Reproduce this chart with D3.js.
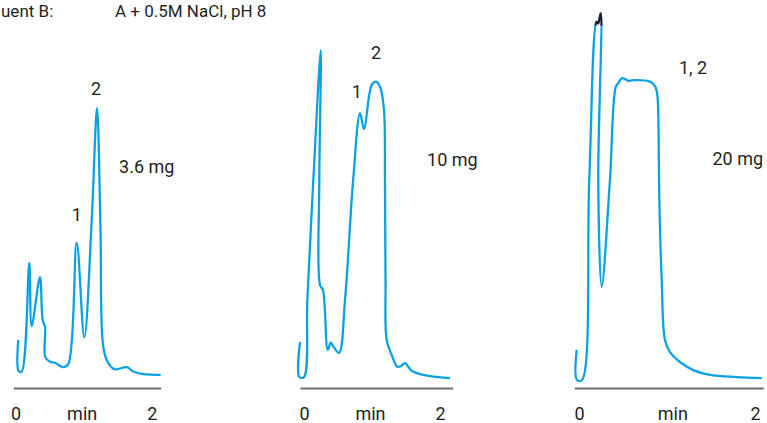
<!DOCTYPE html>
<html>
<head>
<meta charset="utf-8">
<script src="https://cdn.jsdelivr.net/npm/d3@7"></script>
<style>
  body { margin: 0; background: #fff; }
  svg text { font-family: Roboto, "Liberation Sans", sans-serif; fill: #231f20; }
</style>
</head>
<body>
<svg id="chart"></svg>
<script>
// eluent note (left part is cropped in the original figure)
var eluentLabel = "uent B:";
var eluentText = "A + 0.5M NaCl, pH 8";

// load per run
var loads = ["3.6 mg", "10 mg", "20 mg"];

// traces: time (min) and detector signal (relative units)
var time1 = [0.038, 0.043, 0.088, 0.200, 0.235, 0.357, 0.397, 0.431, 0.435, 0.504, 0.578, 0.700, 0.774, 0.897, 1.009, 1.118, 1.196, 1.247, 1.288, 1.362, 1.460, 1.632, 1.729, 1.876, 2.132];
var signal1 = [10.9, 2.5, 2.3, 31.9, 14.7, 28.0, 16.3, 14.5, 6.3, 5.0, 4.7, 3.5, 4.4, 37.4, 11.6, 43.6, 74.1, 40.9, 9.0, 4.6, 2.9, 3.5, 2.3, 1.6, 1.4];

var time2 = [-0.059, -0.069, 0.000, 0.049, 0.137, 0.246, 0.225, 0.235, 0.279, 0.349, 0.393, 0.426, 0.515, 0.603, 0.725, 0.824, 0.882, 0.996, 1.059, 1.118, 1.176, 1.191, 1.199, 1.216, 1.290, 1.372, 1.426, 1.485, 1.584, 1.750, 2.147];
var signal2 = [10.4, 0.8, 0.8, 21.8, 54.5, 89.9, 54.5, 25.9, 24.5, 8.2, 10.2, 9.3, 7.4, 21.8, 55.0, 72.7, 68.4, 80.4, 81.3, 79.9, 73.6, 54.5, 27.2, 10.9, 6.8, 3.6, 3.8, 4.6, 2.5, 1.4, 0.5];

var time3 = [-0.026, -0.023, 0.034, 0.117, 0.201, 0.219, 0.247, 0.219, 0.258, 0.352, 0.417, 0.447, 0.485, 0.523, 0.560, 0.617, 0.807, 0.864, 0.890, 0.901, 0.913, 0.940, 0.977, 1.034, 1.148, 1.299, 1.489, 1.792, 2.076];
var signal3 = [8.2, 0.0, 0.0, 54.5, 97.6, 97.2, 99.9, 54.5, 25.4, 54.5, 79.8, 80.9, 82.2, 82.0, 81.5, 81.7, 81.3, 80.1, 77.7, 72.2, 49.0, 27.2, 10.9, 7.6, 4.9, 2.7, 1.4, 0.8, 0.5];

// peak labels per run
var peakText1 = ["1", "2"];
var peakText2 = ["1", "2"];
var peakText3 = ["1, 2"];

var xTicks = [0, 2];
var xUnit = "min";

var width = 767, height = 423;
var svg = d3.select("#chart").attr("width", width).attr("height", height);

var y = d3.scaleLinear().domain([0, 100]).range([380, 13]);

// layout of each run
var panels = [
  { t: time1, s: signal1, domain: [-0.035, 2.132], range: [13.3, 160.7], unitAt: 0.97,
    labels: [{ text: peakText1[0], t: 0.90, s: 43.3, anchor: "middle" },
             { text: peakText1[1], t: 1.18, s: 77.7, anchor: "middle" },
             { text: loads[0], t: 1.52, s: 56.4, anchor: "start" }] },
  { t: time2, s: signal2, domain: [-0.059, 2.187], range: [300, 452.7], unitAt: 0.97,
    labels: [{ text: peakText2[0], t: 0.775, s: 76.8, anchor: "middle" },
             { text: peakText2[1], t: 1.06, s: 87.5, anchor: "middle" },
             { text: loads[1], t: 1.81, s: 58.3, anchor: "start" }] },
  { t: time3, s: signal3, domain: [-0.053, 2.094], range: [574.3, 763.3], unitAt: 1.06,
    labels: [{ text: peakText3[0], t: 1.136, s: 83.4, anchor: "start" },
             { text: loads[2], t: 1.517, s: 58.6, anchor: "start" }] }
];

// eluent header
svg.append("text")
  .attr("x", 1).attr("y", 16.5)
  .style("font-size", "17px")
  .text(eluentLabel);
svg.append("text")
  .attr("x", 115).attr("y", 16.5)
  .style("font-size", "17px")
  .text(eluentText);

// clip for the off-scale tip drawn in black
svg.append("defs").append("clipPath").attr("id", "overRange")
  .append("rect")
  .attr("x", 0).attr("y", 0)
  .attr("width", width).attr("height", y(96.5));

panels.forEach(function(p, k) {
  var x = d3.scaleLinear().domain(p.domain).range(p.range);
  var pts = p.t.map(function(d, i) { return [d, p.s[i]]; });

  var line = d3.line()
    .x(function(d) { return x(d[0]); })
    .y(function(d) { return y(d[1]); })
    .curve(d3.curveCatmullRom.alpha(0.5));

  // x axis: plain line with 0, min, 2
  var axis = d3.axisBottom(x)
    .tickValues([xTicks[0], p.unitAt, xTicks[1]])
    .tickSize(0)
    .tickPadding(19)
    .tickFormat(function(d) { return d === p.unitAt ? xUnit : d3.format("d")(d); });

  var g = svg.append("g")
    .attr("transform", "translate(0,388)")
    .call(axis);
  g.select(".domain")
    .attr("stroke", "#6d6e70")
    .attr("stroke-width", 2);
  g.selectAll(".tick text")
    .style("font-size", "18px")
    .style("font-family", "Roboto, 'Liberation Sans', sans-serif")
    .attr("fill", "#231f20");

  svg.append("path")
    .datum(pts)
    .attr("d", line)
    .attr("fill", "none")
    .attr("stroke", "#0aa2e3")
    .attr("stroke-width", 2.3)
    .attr("stroke-linejoin", "round");

  if (k === 2) {
    svg.append("path")
      .datum(pts)
      .attr("d", line)
      .attr("fill", "none")
      .attr("stroke", "#231f20")
      .attr("stroke-width", 2.3)
      .attr("clip-path", "url(#overRange)");
  }

  svg.selectAll(null)
    .data(p.labels)
    .enter().append("text")
    .attr("x", function(d) { return x(d.t); })
    .attr("y", function(d) { return y(d.s); })
    .attr("text-anchor", function(d) { return d.anchor; })
    .style("font-size", "18px")
    .text(function(d) { return d.text; });
});
</script>
</body>
</html>
